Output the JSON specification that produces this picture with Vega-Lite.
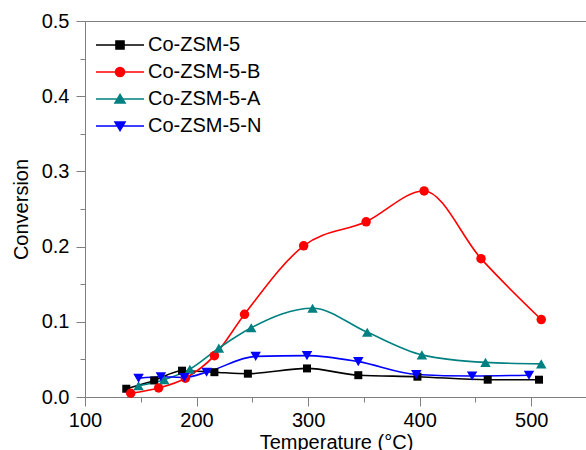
{
  "$schema": "https://vega.github.io/schema/vega-lite/v6.json",
  "autosize": "none",
  "width": 502,
  "height": 376,
  "padding": {"left": 85, "top": 21, "right": 0, "bottom": 53},
  "background": "white",
  "config": {
    "font": "Liberation Sans",
    "view": {"stroke": "#7f7f7f", "strokeWidth": 1},
    "axis": {"grid": false, "domainColor": "#7f7f7f", "tickColor": "#7f7f7f", "labelColor": "black", "titleColor": "black", "labelFont": "Liberation Sans", "titleFont": "Liberation Sans", "labelFontSize": 20, "titleFontSize": 20, "titleFontWeight": "normal"}
  },
  "data": {"values": [
    {"series": "Co-ZSM-5", "T": 137, "v": 0.011},
    {"series": "Co-ZSM-5", "T": 162, "v": 0.022},
    {"series": "Co-ZSM-5", "T": 187, "v": 0.035},
    {"series": "Co-ZSM-5", "T": 216, "v": 0.033},
    {"series": "Co-ZSM-5", "T": 246, "v": 0.031},
    {"series": "Co-ZSM-5", "T": 299, "v": 0.038},
    {"series": "Co-ZSM-5", "T": 345, "v": 0.029},
    {"series": "Co-ZSM-5", "T": 398, "v": 0.027},
    {"series": "Co-ZSM-5", "T": 461, "v": 0.023},
    {"series": "Co-ZSM-5", "T": 507, "v": 0.023},
    {"series": "Co-ZSM-5-B", "T": 141, "v": 0.005},
    {"series": "Co-ZSM-5-B", "T": 166, "v": 0.012},
    {"series": "Co-ZSM-5-B", "T": 190, "v": 0.025},
    {"series": "Co-ZSM-5-B", "T": 216, "v": 0.055},
    {"series": "Co-ZSM-5-B", "T": 243, "v": 0.110},
    {"series": "Co-ZSM-5-B", "T": 296, "v": 0.201},
    {"series": "Co-ZSM-5-B", "T": 352, "v": 0.233},
    {"series": "Co-ZSM-5-B", "T": 404, "v": 0.274},
    {"series": "Co-ZSM-5-B", "T": 455, "v": 0.184},
    {"series": "Co-ZSM-5-B", "T": 509, "v": 0.103},
    {"series": "Co-ZSM-5-A", "T": 148, "v": 0.015},
    {"series": "Co-ZSM-5-A", "T": 171, "v": 0.023},
    {"series": "Co-ZSM-5-A", "T": 194, "v": 0.037},
    {"series": "Co-ZSM-5-A", "T": 220, "v": 0.065},
    {"series": "Co-ZSM-5-A", "T": 249, "v": 0.092},
    {"series": "Co-ZSM-5-A", "T": 304, "v": 0.118},
    {"series": "Co-ZSM-5-A", "T": 353, "v": 0.086},
    {"series": "Co-ZSM-5-A", "T": 402, "v": 0.056},
    {"series": "Co-ZSM-5-A", "T": 459, "v": 0.046},
    {"series": "Co-ZSM-5-A", "T": 509, "v": 0.044},
    {"series": "Co-ZSM-5-N", "T": 148, "v": 0.025},
    {"series": "Co-ZSM-5-N", "T": 168, "v": 0.027},
    {"series": "Co-ZSM-5-N", "T": 189, "v": 0.026},
    {"series": "Co-ZSM-5-N", "T": 209, "v": 0.033},
    {"series": "Co-ZSM-5-N", "T": 253, "v": 0.054},
    {"series": "Co-ZSM-5-N", "T": 299, "v": 0.055},
    {"series": "Co-ZSM-5-N", "T": 345, "v": 0.047},
    {"series": "Co-ZSM-5-N", "T": 397, "v": 0.030},
    {"series": "Co-ZSM-5-N", "T": 447, "v": 0.028},
    {"series": "Co-ZSM-5-N", "T": 498, "v": 0.029}
  ]},
  "layer": [
    {
      "mark": {"type": "line", "interpolate": "monotone", "strokeWidth": 1.6},
      "encoding": {
        "x": {"field": "T", "type": "quantitative", "scale": {"domain": [100, 550], "nice": false, "zero": false},
          "axis": {"orient": "bottom", "title": "Temperature (°C)", "values": [100, 200, 300, 400, 500], "format": "d", "tickSize": 9, "labelPadding": 4, "titlePadding": 2, "labelFlush": false, "labelOverlap": false}},
        "y": {"field": "v", "type": "quantitative", "scale": {"domain": [0, 0.5], "nice": false},
          "axis": {"orient": "left", "title": "Conversion", "values": [0, 0.1, 0.2, 0.3, 0.4, 0.5], "format": ".1f", "tickSize": 9, "labelPadding": 7, "titlePadding": 10, "labelFlush": false, "labelOverlap": false}},
        "color": {"field": "series", "type": "nominal",
          "scale": {"domain": ["Co-ZSM-5", "Co-ZSM-5-B", "Co-ZSM-5-A", "Co-ZSM-5-N"], "range": ["#000000", "#ff0000", "#008080", "#0000ff"]},
          "legend": {
            "title": null, "orient": "none", "legendX": 10, "legendY": 14, "padding": 0,
            "labelFontSize": 20, "labelColor": "black", "labelFont": "Liberation Sans",
            "symbolSize": 100, "symbolStrokeWidth": 1.6, "labelOffset": 33, "rowPadding": 7, "symbolOffset": 0,
            "symbolType": {"expr": "datum.value === 'Co-ZSM-5' ? 'M-1.8,0H7.8M2.2,-0.8H3.8V0.8H2.2Z' : datum.value === 'Co-ZSM-5-B' ? 'M-1.8,0H7.8M2.1,0A0.9,0.9,0,1,0,3.9,0A0.9,0.9,0,1,0,2.1,0Z' : datum.value === 'Co-ZSM-5-A' ? 'M-1.8,0H7.8M3,-0.9L4,0.8L2,0.8Z' : 'M-1.8,0H7.8M3,0.9L4,-0.8L2,-0.8Z'"},
            "symbolFillColor": {"expr": "scale('color', datum.value)"},
            "symbolStrokeColor": {"expr": "scale('color', datum.value)"}
          }}
      }
    },
    {
      "transform": [{"filter": "datum.series === 'Co-ZSM-5'"}],
      "mark": {"type": "point", "filled": true, "opacity": 1, "shape": "square", "size": 64, "color": "#000000"},
      "encoding": {
        "x": {"field": "T", "type": "quantitative", "axis": {"orient": "bottom", "values": [150, 250, 350, 450, 550], "tickSize": 5, "labels": false, "domain": false, "title": null}},
        "y": {"field": "v", "type": "quantitative", "axis": {"orient": "left", "values": [0.05, 0.15, 0.25, 0.35, 0.45], "tickSize": 5, "labels": false, "domain": false, "title": null}}
      }
    },
    {
      "transform": [{"filter": "datum.series === 'Co-ZSM-5-B'"}],
      "mark": {"type": "point", "filled": true, "opacity": 1, "shape": "circle", "size": 90, "color": "#ff0000"},
      "encoding": {
        "x": {"field": "T", "type": "quantitative", "axis": null},
        "y": {"field": "v", "type": "quantitative", "axis": null}
      }
    },
    {
      "transform": [{"filter": "datum.series === 'Co-ZSM-5-A'"}],
      "mark": {"type": "point", "filled": true, "opacity": 1, "shape": "triangle-up", "size": 110, "color": "#008080"},
      "encoding": {
        "x": {"field": "T", "type": "quantitative", "axis": null},
        "y": {"field": "v", "type": "quantitative", "axis": null}
      }
    },
    {
      "transform": [{"filter": "datum.series === 'Co-ZSM-5-N'"}],
      "mark": {"type": "point", "filled": true, "opacity": 1, "shape": "triangle-down", "size": 110, "color": "#0000ff"},
      "encoding": {
        "x": {"field": "T", "type": "quantitative", "axis": null},
        "y": {"field": "v", "type": "quantitative", "axis": null}
      }
    }
  ],
  "resolve": {"axis": {"x": "independent", "y": "independent"}}
}
